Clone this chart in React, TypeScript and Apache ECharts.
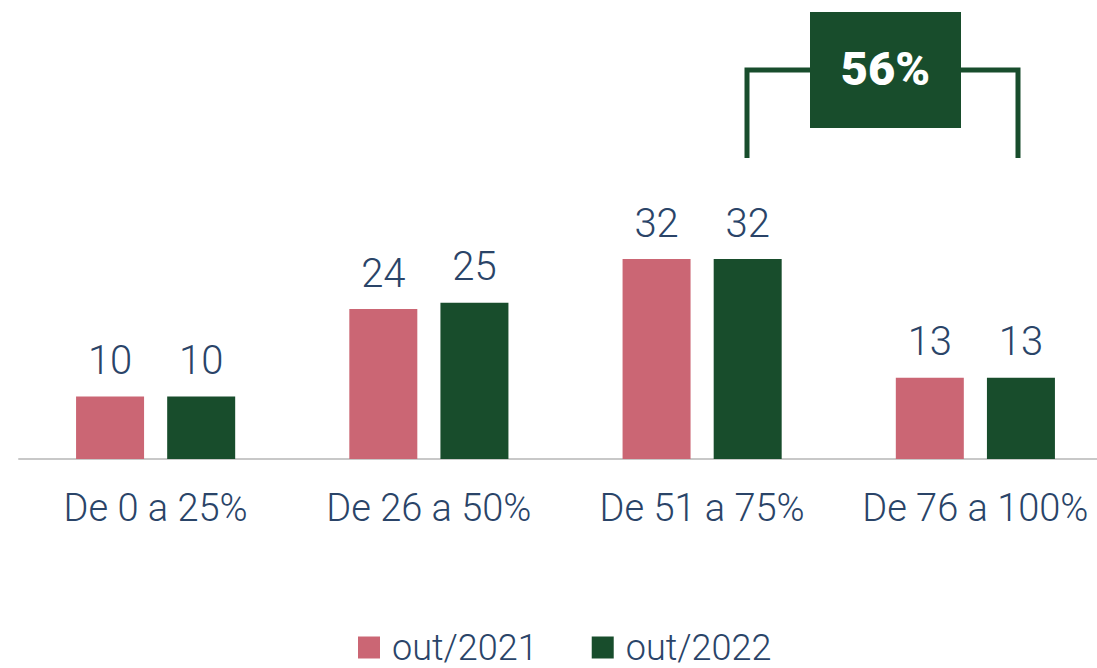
import React, { useEffect, useRef } from "react";
import * as echarts from "echarts";

const categories = ["De 0 a 25%", "De 26 a 50%", "De 51 a 75%", "De 76 a 100%"];
const series2021 = [10, 24, 32, 13];
const series2022 = [10, 25, 32, 13];
const seriesNames = ["out/2021", "out/2022"];
const highlightLabel = "56%";

const PINK = "#cb6674";
const GREEN = "#184d2c";
const TEXT = "#2a4468";
const FONT = "Roboto";

export default function App() {
  const ref = useRef<HTMLDivElement>(null);
  useEffect(() => {
    if (!ref.current) return;
    const chart = echarts.init(ref.current, null, { renderer: "svg" });
    const labelStyle = {
      show: true,
      position: "top" as const,
      distance: 16,
      color: TEXT,
      fontFamily: FONT,
      fontWeight: 300 as const,
      fontSize: 40,
    };
    chart.setOption({
      animation: false,
      grid: { left: 19, right: 18, top: 84, bottom: 209, containLabel: false },
      legend: {
        top: 629,
        left: 358,
        padding: 0,
        itemWidth: 22,
        itemHeight: 22,
        itemGap: 54,
        icon: "rect",
        textStyle: { color: TEXT, fontFamily: FONT, fontWeight: 300, fontSize: 36, lineHeight: 37, padding: [0, 0, 0, 7] },
        data: seriesNames,
      },
      xAxis: {
        type: "category",
        data: categories,
        axisLine: { show: true, lineStyle: { color: "#c8c8c8", width: 2 } },
        axisTick: { show: false },
        axisLabel: { color: TEXT, fontFamily: FONT, fontWeight: 300, fontSize: 38, margin: 30, interval: 0 },
      },
      yAxis: {
        type: "value",
        min: 0,
        max: 60,
        show: false,
        splitLine: { show: false },
      },
      series: [
        {
          name: seriesNames[0],
          type: "bar",
          data: series2021,
          barWidth: 68,
          barGap: "34%",
          itemStyle: { color: PINK },
          label: labelStyle,
        },
        {
          name: seriesNames[1],
          type: "bar",
          data: series2022,
          barWidth: 68,
          itemStyle: { color: GREEN },
          label: labelStyle,
        },
      ],
      graphic: [
        {
          type: "polyline",
          shape: { points: [[747, 158], [747, 70], [812, 70]] },
          style: { stroke: GREEN, lineWidth: 5, fill: "none" },
        },
        {
          type: "polyline",
          shape: { points: [[959, 70], [1018, 70], [1018, 158]] },
          style: { stroke: GREEN, lineWidth: 5, fill: "none" },
        },
        {
          type: "rect",
          shape: { x: 810, y: 12, width: 151, height: 116 },
          style: { fill: GREEN },
        },
        {
          type: "text",
          x: 885.5,
          y: 68,
          style: {
            text: highlightLabel,
            fill: "#ffffff",
            font: `900 47px ${FONT}`,
            align: "center",
            verticalAlign: "middle",
          },
        },
      ],
    });
    return () => chart.dispose();
  }, []);
  return (
    <div style={{ position: "absolute", left: 0, top: 0, width: 1097, height: 668, overflow: "hidden" }}>
      <div ref={ref} style={{ width: 1130, height: 668 }} />
    </div>
  );
}
